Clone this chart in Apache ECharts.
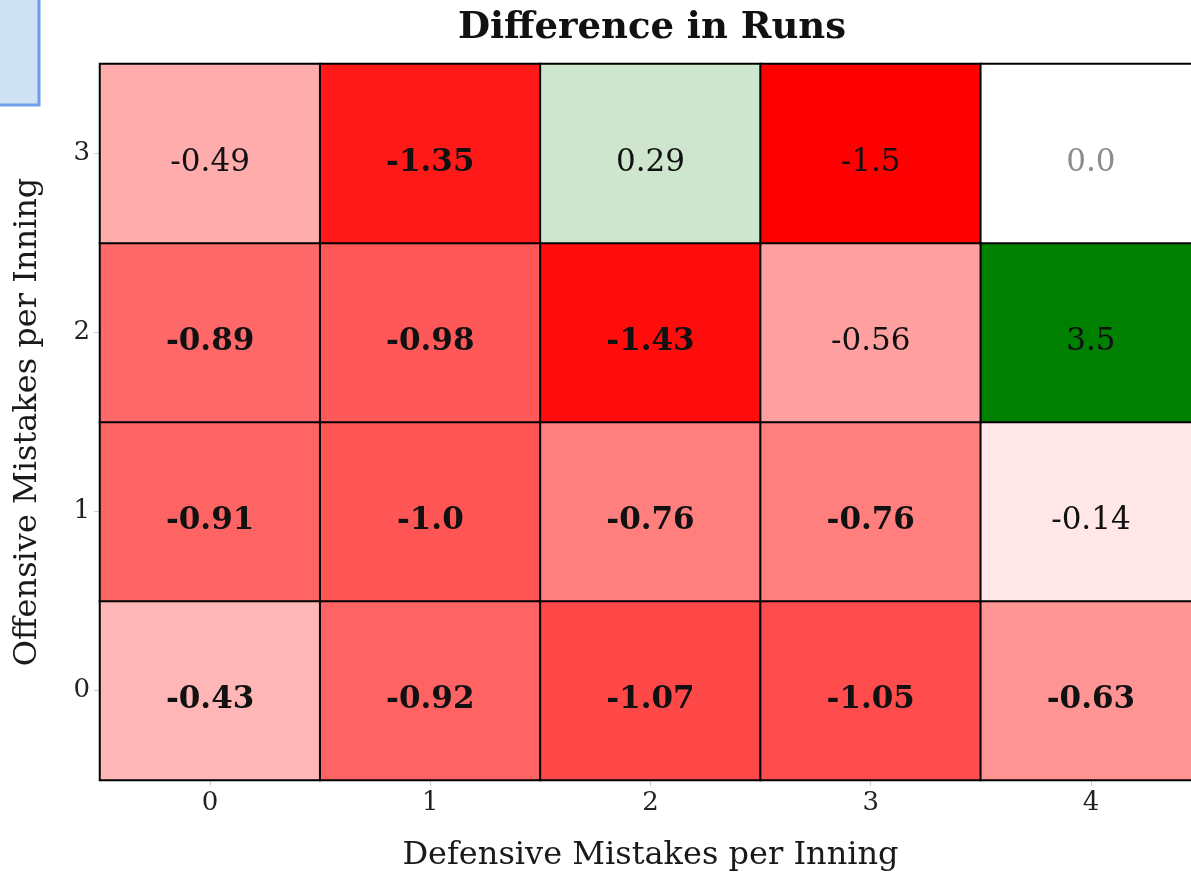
<!DOCTYPE html>
<html>
<head>
<meta charset="utf-8">
<script src="https://cdn.jsdelivr.net/npm/echarts@6/dist/echarts.min.js"></script>
<style>
  html, body { margin: 0; padding: 0; background: #ffffff; }
  #chart { width: 1191px; height: 873px; }
</style>
</head>
<body>
<div id="chart"></div>
<script>
// Defensive mistakes (columns) and offensive mistakes (rows, bottom to top)
const defensiveMistakes = ['0', '1', '2', '3', '4'];
const offensiveMistakes = ['0', '1', '2', '3'];

// Difference in runs, one row per offensive-mistake count
const runsRow0 = [-0.43, -0.92, -1.07, -1.05, -0.63];
const runsRow1 = [-0.91, -1.0, -0.76, -0.76, -0.14];
const runsRow2 = [-0.89, -0.98, -1.43, -0.56, 3.5];
const runsRow3 = [-0.49, -1.35, 0.29, -1.5, 0.0];

// Cells whose value is shown in bold (1 = bold)
const boldRow0 = [1, 1, 1, 1, 1];
const boldRow1 = [1, 1, 1, 1, 0];
const boldRow2 = [1, 1, 1, 0, 0];
const boldRow3 = [0, 1, 0, 0, 0];

// Cells without observations, labelled in grey
const emptyRow3 = [0, 0, 0, 0, 1];
const emptyRow0 = [0, 0, 0, 0, 0];

const runs = [runsRow0, runsRow1, runsRow2, runsRow3];
const bold = [boldRow0, boldRow1, boldRow2, boldRow3];
const empty = [emptyRow0, emptyRow0, emptyRow0, emptyRow3];

const COLOR_LIMIT = 1.5;
const serif = '"DejaVu Serif", "Liberation Serif", serif';

function fmt(v) {
  return Number.isInteger(v) ? v.toFixed(1) : String(v);
}

const cells = [];
runs.forEach((row, y) => {
  row.forEach((v, x) => {
    const clamped = Math.max(-COLOR_LIMIT, Math.min(COLOR_LIMIT, v));
    cells.push({
      value: [x, y, v, clamped],
      label: {
        fontWeight: bold[y][x] ? 'bold' : 'normal',
        color: empty[y][x] ? '#8c8c8c' : '#111111'
      }
    });
  });
});

const chart = echarts.init(document.getElementById('chart'), null, { renderer: 'canvas' });

chart.setOption({
  animation: false,
  backgroundColor: '#ffffff',
  title: {
    text: 'Difference in Runs',
    left: 647,
    textAlign: 'center',
    top: 5,
    textStyle: { fontFamily: serif, fontSize: 37, fontWeight: 'bold', color: '#111111' }
  },
  graphic: [{
    type: 'rect',
    shape: { x: -10, y: -10, width: 49, height: 115 },
    style: { fill: '#cfe2f3', stroke: '#6d9eeb', lineWidth: 3 },
    z: 100
  }],
  grid: { left: 100, top: 64, width: 1101, height: 716, outerBoundsMode: 'none' },
  xAxis: {
    type: 'category',
    data: defensiveMistakes,
    name: 'Defensive Mistakes per Inning',
    nameLocation: 'middle',
    nameGap: 60,
    nameTextStyle: { fontFamily: serif, fontSize: 32, color: '#1a1a1a' },
    axisLine: { show: false },
    axisTick: { show: true, alignWithLabel: true, length: 6, lineStyle: { color: '#cccccc' } },
    axisLabel: { fontFamily: serif, fontSize: 26, color: '#222222', margin: 10 },
    splitLine: { show: false }
  },
  yAxis: {
    type: 'category',
    data: offensiveMistakes,
    name: 'Offensive Mistakes per Inning',
    nameLocation: 'middle',
    nameGap: 56,
    nameTextStyle: { fontFamily: serif, fontSize: 32, color: '#1a1a1a' },
    axisLine: { show: false },
    axisTick: { show: true, alignWithLabel: true, length: 6, lineStyle: { color: '#cccccc' } },
    axisLabel: { fontFamily: serif, fontSize: 26, color: '#222222', margin: 10 },
    splitLine: { show: false }
  },
  visualMap: {
    show: false,
    type: 'continuous',
    dimension: 3,
    min: -COLOR_LIMIT,
    max: COLOR_LIMIT,
    inRange: { color: ['#ff0000', '#ffffff', '#008000'] }
  },
  series: [{
    type: 'heatmap',
    data: cells,
    itemStyle: { borderColor: '#000000', borderWidth: 2 },
    label: {
      show: true,
      fontFamily: serif,
      fontSize: 31,
      offset: [0, 9],
      formatter: p => fmt(p.value[2])
    },
    emphasis: { disabled: true }
  }]
});
</script>
</body>
</html>
